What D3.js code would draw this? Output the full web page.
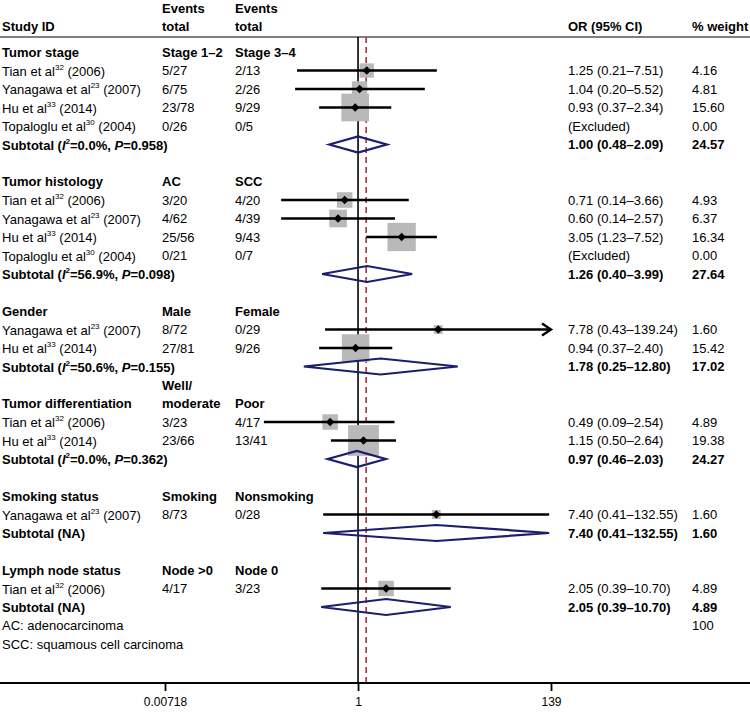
<!DOCTYPE html>
<html><head><meta charset="utf-8">
<script src="https://cdn.jsdelivr.net/npm/d3@7"></script>
<style>body{margin:0;background:#fff;} svg{display:block;font-family:Arial,"Liberation Sans",sans-serif;}</style>
</head><body><svg id="c" width="750" height="712"></svg>
<script>
// ---- data ----
const groupNames = ["Tumor stage","Tumor histology","Gender","Tumor differentiation","Smoking status","Lymph node status"];
const groupCol1 = [["Stage 1–2"],["AC"],["Male"],["Well/","moderate"],["Smoking"],["Node >0"]];
const groupCol2 = ["Stage 3–4","SCC","Female","Poor","Nonsmoking","Node 0"];
const subI2 = ["0.0%","56.9%","50.6%","0.0%",null,null];
const subP = ["0.958","0.098","0.155","0.362",null,null];
const subOR = [1.00,1.26,1.78,0.97,7.40,2.05];
const subLo = [0.48,0.40,0.25,0.46,0.41,0.39];
const subHi = [2.09,3.99,12.80,2.03,132.55,10.70];
const subCI = ["1.00 (0.48–2.09)","1.26 (0.40–3.99)","1.78 (0.25–12.80)","0.97 (0.46–2.03)","7.40 (0.41–132.55)","2.05 (0.39–10.70)"];
const subWeight = ["24.57","27.64","17.02","24.27","1.60","4.89"];

const studyGroup = [0,0,0,0,1,1,1,1,2,2,3,3,4,5];
const studyAuthor = ["Tian et al","Yanagawa et al","Hu et al","Topaloglu et al","Tian et al","Yanagawa et al","Hu et al","Topaloglu et al","Yanagawa et al","Hu et al","Tian et al","Hu et al","Yanagawa et al","Tian et al"];
const studyRef = ["32","23","33","30","32","23","33","30","23","33","32","33","23","32"];
const studyYear = ["2006","2007","2014","2004","2006","2007","2014","2004","2007","2014","2006","2014","2007","2006"];
const studyEv1 = ["5/27","6/75","23/78","0/26","3/20","4/62","25/56","0/21","8/72","27/81","3/23","23/66","8/73","4/17"];
const studyEv2 = ["2/13","2/26","9/29","0/5","4/20","4/39","9/43","0/7","0/29","9/26","4/17","13/41","0/28","3/23"];
const studyOR = [1.25,1.04,0.93,null,0.71,0.60,3.05,null,7.78,0.94,0.49,1.15,7.40,2.05];
const studyLo = [0.21,0.20,0.37,null,0.14,0.14,1.23,null,0.43,0.37,0.09,0.50,0.41,0.39];
const studyHi = [7.51,5.52,2.34,null,3.66,2.57,7.52,null,139.24,2.40,2.54,2.64,132.55,10.70];
const studyCI = ["1.25 (0.21–7.51)","1.04 (0.20–5.52)","0.93 (0.37–2.34)","(Excluded)","0.71 (0.14–3.66)","0.60 (0.14–2.57)","3.05 (1.23–7.52)","(Excluded)","7.78 (0.43–139.24)","0.94 (0.37–2.40)","0.49 (0.09–2.54)","1.15 (0.50–2.64)","7.40 (0.41–132.55)","2.05 (0.39–10.70)"];
const studyWeight = [4.16,4.81,15.60,0.00,4.93,6.37,16.34,0.00,1.60,15.42,4.89,19.38,1.60,4.89];
const studyWeightLabel = ["4.16","4.81","15.60","0.00","4.93","6.37","16.34","0.00","1.60","15.42","4.89","19.38","1.60","4.89"];

const overallOR = 1.23;
const totalWeight = "100";
const notes = ["AC: adenocarcinoma","SCC: squamous cell carcinoma"];
const axisTicks = [0.00718, 1, 139];
const axisTickLabels = ["0.00718","1","139"];

// ---- layout ----
const svg = d3.select("#c");
const W = 750;
const x = d3.scaleLog().domain([0.00718, 139]).range([165, 551]);
const row0 = 52, rowH = 18.5;
const rowY = i => row0 + i*rowH;
const colStudy = 2, colE1 = 162, colE2 = 235, colOR = 568, colW = 692;
const topLine = 37, axisY = 683;
const FS = 13;
const boxK = 7.0;
const navy = "#1b1e6e", red = "#a8323e", grey = "#b9b9b9";

function txt(xp, y, s, bold) {
  return svg.append("text").attr("x", xp).attr("y", y).attr("dominant-baseline","central")
    .attr("font-size", FS).attr("font-weight", bold ? "bold" : "normal").attr("fill","#000").text(s);
}

// build rows
let r = 0;
const rows = [];
groupNames.forEach((g, gi) => {
  rows.push({type:"group", gi, i:r++});
  studyGroup.forEach((sg, si) => { if (sg === gi) rows.push({type:"study", si, i:r++}); });
  rows.push({type:"sub", gi, i:r++});
  if (gi < groupNames.length - 1) r++;
});
const noteRow = r;

// header
[["Events",8],["total",26]].forEach(([s,y]) => { txt(colE1, y, s, true); txt(colE2, y, s, true); });
txt(colStudy, 26, "Study ID", true);
txt(colOR, 26, "OR (95% CI)", true);
txt(colW, 26, "% weight", true);
svg.append("line").attr("x1",0).attr("x2",W).attr("y1",topLine).attr("y2",topLine).attr("stroke","#000").attr("stroke-width",1.2);

// reference lines
svg.append("line").attr("x1",x(1)).attr("x2",x(1)).attr("y1",topLine).attr("y2",axisY).attr("stroke","#000").attr("stroke-width",1.6);
svg.append("line").attr("x1",x(overallOR)).attr("x2",x(overallOR)).attr("y1",topLine).attr("y2",axisY)
  .attr("stroke",red).attr("stroke-width",1.6).attr("stroke-dasharray","6,4");

const xmax = x.domain()[1];
rows.forEach(row => {
  const y = rowY(row.i);
  if (row.type === "group") {
    txt(colStudy, y, groupNames[row.gi], true);
    const c1 = groupCol1[row.gi];
    c1.forEach((s, k) => txt(colE1, y - (c1.length - 1 - k)*rowH, s, true));
    txt(colE2, y, groupCol2[row.gi], true);
  } else if (row.type === "study") {
    const si = row.si;
    const t = txt(colStudy, y, null, false);
    t.append("tspan").text(studyAuthor[si]);
    t.append("tspan").attr("font-size", 8).attr("dy", -4).text(studyRef[si]);
    t.append("tspan").attr("dy", 4).text(" (" + studyYear[si] + ")");
    txt(colE1, y, studyEv1[si]);
    txt(colE2, y, studyEv2[si]);
    txt(colOR, y, studyCI[si]);
    txt(colW, y, studyWeightLabel[si]);
  } else {
    const gi = row.gi;
    const t = txt(colStudy, y, null, true);
    if (subI2[gi] !== null) {
      t.append("tspan").text("Subtotal (");
      t.append("tspan").attr("font-style","italic").text("I");
      t.append("tspan").attr("font-size", 8).attr("dy", -4).text("2");
      t.append("tspan").attr("dy", 4).text("=" + subI2[gi] + ", ");
      t.append("tspan").attr("font-style","italic").text("P");
      t.append("tspan").text("=" + subP[gi] + ")");
    } else {
      t.append("tspan").text("Subtotal (NA)");
    }
    txt(colOR, y, subCI[gi], true);
    txt(colW, y, subWeight[gi], true);
  }
});

// study marks
rows.filter(d => d.type === "study" && studyOR[d.si] !== null).forEach(row => {
  const si = row.si, y = rowY(row.i);
  const s = boxK * Math.sqrt(studyWeight[si]);
  svg.append("rect").attr("x", x(studyOR[si]) - s/2).attr("y", y - s/2).attr("width", s).attr("height", s).attr("fill", grey);
});
rows.filter(d => d.type === "study" && studyOR[d.si] !== null).forEach(row => {
  const si = row.si, y = rowY(row.i);
  const hi = Math.min(studyHi[si], xmax);
  svg.append("line").attr("x1", x(studyLo[si])).attr("x2", x(hi)).attr("y1", y).attr("y2", y).attr("stroke","#000").attr("stroke-width",2.4);
  if (studyHi[si] > xmax) {
    const ax = x(xmax);
    svg.append("path").attr("d", `M${ax-9},${y-6}L${ax},${y}L${ax-9},${y+6}`).attr("fill","none").attr("stroke","#000").attr("stroke-width",2.4);
  }
  const cx = x(studyOR[si]), d = 4.2;
  svg.append("path").attr("d", `M${cx},${y-d}L${cx+d},${y}L${cx},${y+d}L${cx-d},${y}Z`).attr("fill","#000");
});
// subtotal diamonds
rows.filter(d => d.type === "sub").forEach(row => {
  const gi = row.gi, y = rowY(row.i), h = 8;
  const l = x(subLo[gi]), c = x(subOR[gi]), rr = x(subHi[gi]);
  svg.append("path").attr("d", `M${l},${y}L${c},${y-h}L${rr},${y}L${c},${y+h}Z`)
    .attr("fill","none").attr("stroke", navy).attr("stroke-width", 2.2).attr("stroke-linejoin","miter");
});

// notes
notes.forEach((n, k) => txt(colStudy, rowY(noteRow + k), n));
txt(colW, rowY(noteRow), totalWeight);

// axis
svg.append("line").attr("x1",0).attr("x2",W).attr("y1",axisY).attr("y2",axisY).attr("stroke","#000").attr("stroke-width",1.8);
const ax = svg.append("g").attr("transform", `translate(0,${axisY})`)
  .call(d3.axisBottom(x).tickValues(axisTicks).tickFormat((d,i) => axisTickLabels[i]).tickSize(8).tickPadding(6));
ax.select(".domain").remove();
ax.selectAll(".tick line").attr("stroke","#000").attr("stroke-width",1.8);
ax.selectAll(".tick text").attr("font-size", 12).attr("font-family","Arial, 'Liberation Sans', sans-serif").attr("fill","#000");
</script></body></html>
